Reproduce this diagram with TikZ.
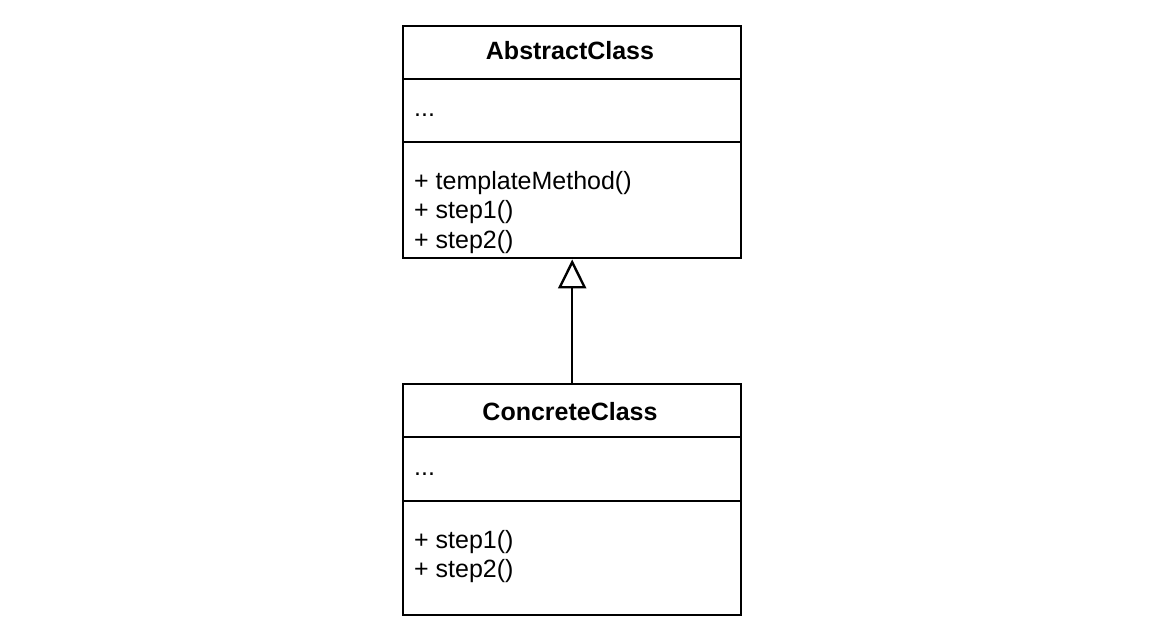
\documentclass[tikz,border=0pt]{standalone}
\usepackage{fontspec}
\setmainfont{Liberation Sans}
\usetikzlibrary{arrows.meta}

\begin{document}
\begin{tikzpicture}[x=1pt,y=-1pt,
  umlbox/.style={draw, line width=2.4pt, minimum width=338pt, inner sep=0pt,
                 anchor=north west},
  divider/.style={line width=2.4pt},
  classname/.style={font=\bfseries\fontsize{25}{29}\selectfont, anchor=base,
                    inner sep=0pt},
  member/.style={font=\fontsize{25}{29}\selectfont, anchor=base west,
                 inner sep=0pt},
  inherits/.style={line width=2.4pt,
                   -{Triangle[open, length=29pt, width=28pt, fill=white]}}
]
  \useasboundingbox (0,0) rectangle (1170,639);

  % AbstractClass
  \node[umlbox, minimum height=232pt] (abstract) at (402,25) {};
  \draw[divider] (abstract.west |- 0,79) -- (abstract.east |- 0,79);
  \draw[divider] (abstract.west |- 0,142) -- (abstract.east |- 0,142);
  \node[classname] (abstractname) at (570,60) {AbstractClass};
  \node[member] (abstractattr) at (414,117) {...};
  \node[member] (abstractop1) at (414,190) {+ templateMethod()};
  \node[member] (abstractop2) at (414,219) {+ step1()};
  \node[member] (abstractop3) at (414,248) {+ step2()};

  % ConcreteClass
  \node[umlbox, minimum height=231pt] (concrete) at (402,383) {};
  \draw[divider] (concrete.west |- 0,437) -- (concrete.east |- 0,437);
  \draw[divider] (concrete.west |- 0,501) -- (concrete.east |- 0,501);
  \node[classname] (concretename) at (570,420) {ConcreteClass};
  \node[member] (concreteattr) at (414,475) {...};
  \node[member] (concreteop1) at (414,548) {+ step1()};
  \node[member] (concreteop2) at (414,577) {+ step2()};

  % generalization
  \draw[inherits] (concrete.north) -- (abstract.south);
\end{tikzpicture}
\end{document}
